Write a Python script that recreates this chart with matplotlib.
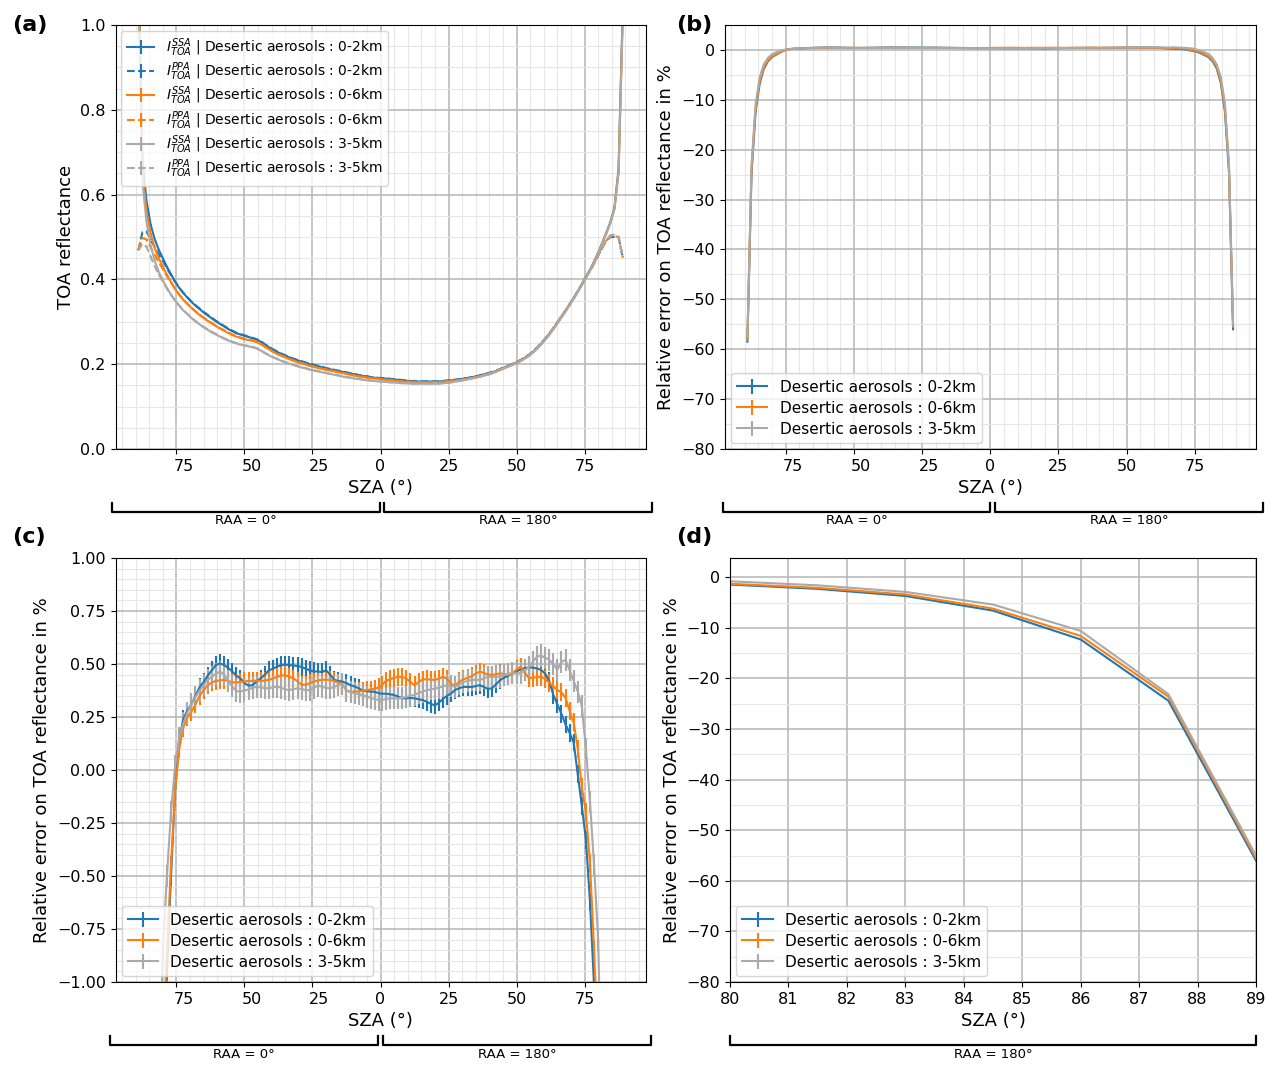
import numpy as np
import matplotlib.pyplot as plt
from matplotlib.ticker import MultipleLocator
from matplotlib.lines import Line2D
from matplotlib.transforms import ScaledTranslation

# SZA grid: 1.5 deg step, RAA=0 side plotted as negative SZA
sza_half = np.arange(0.5, 89.1, 1.5)
sza = np.concatenate([-sza_half[::-1], sza_half])

labels = ["Desertic aerosols : 0-2km", "Desertic aerosols : 0-6km", "Desertic aerosols : 3-5km"]
colors = ["#1f77b4", "#ff7f0e", "#aaaaaa"]

# TOA reflectance, SSA (left: -89 -> -0.5, right: 0.5 -> 89)
ssa_02 = [1.13, 0.68, 0.585, 0.53, 0.495, 0.47, 0.45, 0.43, 0.412, 0.395,
          0.38, 0.368, 0.357, 0.347, 0.338, 0.33, 0.322, 0.315, 0.308, 0.301,
          0.295, 0.289, 0.283, 0.278, 0.273, 0.27, 0.267, 0.264, 0.261, 0.258,
          0.253, 0.246, 0.24, 0.234, 0.229, 0.224, 0.22, 0.216, 0.212, 0.209,
          0.206, 0.203, 0.2, 0.198, 0.195, 0.193, 0.19, 0.188, 0.186, 0.184,
          0.182, 0.18, 0.178, 0.176, 0.174, 0.172, 0.171, 0.169, 0.168, 0.167,
          0.167, 0.166, 0.165, 0.164, 0.163, 0.162, 0.161, 0.16, 0.16, 0.159,
          0.159, 0.159, 0.159, 0.159, 0.159, 0.16, 0.161, 0.162, 0.163, 0.164,
          0.166, 0.167, 0.169, 0.171, 0.173, 0.176, 0.178, 0.181, 0.184, 0.188,
          0.192, 0.196, 0.2, 0.204, 0.209, 0.215, 0.221, 0.229, 0.238, 0.248,
          0.259, 0.271, 0.284, 0.298, 0.312, 0.326, 0.341, 0.356, 0.372, 0.389,
          0.406, 0.423, 0.442, 0.463, 0.486, 0.51, 0.535, 0.57, 0.66, 1.03]
ssa_06 = [1.12, 0.655, 0.56, 0.508, 0.474, 0.45, 0.43, 0.411, 0.394, 0.378,
          0.364, 0.352, 0.342, 0.333, 0.324, 0.316, 0.309, 0.302, 0.296, 0.29,
          0.284, 0.279, 0.274, 0.269, 0.265, 0.262, 0.259, 0.257, 0.255, 0.252,
          0.247, 0.241, 0.235, 0.229, 0.224, 0.22, 0.216, 0.212, 0.208, 0.205,
          0.202, 0.199, 0.196, 0.194, 0.191, 0.189, 0.187, 0.185, 0.183, 0.181,
          0.179, 0.177, 0.175, 0.173, 0.171, 0.17, 0.168, 0.167, 0.166, 0.165,
          0.164, 0.163, 0.162, 0.161, 0.16, 0.159, 0.159, 0.158, 0.158, 0.157,
          0.157, 0.157, 0.157, 0.157, 0.157, 0.158, 0.159, 0.16, 0.161, 0.162,
          0.164, 0.165, 0.167, 0.169, 0.171, 0.174, 0.176, 0.18, 0.183, 0.187,
          0.191, 0.195, 0.199, 0.203, 0.208, 0.214, 0.22, 0.228, 0.237, 0.247,
          0.258, 0.27, 0.283, 0.297, 0.311, 0.325, 0.34, 0.355, 0.371, 0.388,
          0.405, 0.422, 0.441, 0.462, 0.485, 0.509, 0.534, 0.568, 0.655, 1.02]
ssa_35 = [1.1, 0.63, 0.535, 0.48, 0.444, 0.418, 0.398, 0.38, 0.364, 0.35,
          0.338, 0.327, 0.318, 0.309, 0.301, 0.294, 0.287, 0.281, 0.275, 0.27,
          0.265, 0.26, 0.256, 0.252, 0.249, 0.246, 0.244, 0.242, 0.24, 0.237,
          0.232, 0.226, 0.221, 0.216, 0.212, 0.208, 0.204, 0.201, 0.198, 0.195,
          0.192, 0.19, 0.187, 0.185, 0.183, 0.181, 0.179, 0.177, 0.175, 0.173,
          0.171, 0.169, 0.168, 0.166, 0.165, 0.163, 0.162, 0.161, 0.16, 0.159,
          0.159, 0.158, 0.157, 0.157, 0.156, 0.155, 0.155, 0.154, 0.154, 0.154,
          0.154, 0.154, 0.154, 0.154, 0.154, 0.155, 0.156, 0.157, 0.159, 0.16,
          0.162, 0.164, 0.166, 0.168, 0.17, 0.173, 0.175, 0.178, 0.182, 0.186,
          0.19, 0.194, 0.198, 0.202, 0.207, 0.213, 0.219, 0.227, 0.236, 0.246,
          0.257, 0.269, 0.282, 0.296, 0.31, 0.324, 0.339, 0.354, 0.37, 0.387,
          0.404, 0.421, 0.44, 0.461, 0.484, 0.508, 0.533, 0.566, 0.65, 1.0]
ssa_std = 0.0006

# Relative error PPA vs SSA on TOA reflectance, in %
err_02 = [-58.5, -24.8, -12.3, -6.7, -3.8, -2.3, -1.45, -0.95, -0.5, -0.1,
          0.14, 0.24, 0.28, 0.31, 0.35, 0.39, 0.415, 0.445, 0.47, 0.495,
          0.503, 0.495, 0.482, 0.465, 0.445, 0.432, 0.41, 0.398, 0.4, 0.418,
          0.432, 0.45, 0.47, 0.478, 0.488, 0.495, 0.497, 0.495, 0.493, 0.49,
          0.486, 0.478, 0.47, 0.466, 0.464, 0.462, 0.47, 0.45, 0.425, 0.42,
          0.417, 0.41, 0.4, 0.394, 0.385, 0.374, 0.372, 0.37, 0.368, 0.362,
          0.36, 0.36, 0.357, 0.354, 0.346, 0.338, 0.338, 0.34, 0.338, 0.334,
          0.33, 0.322, 0.312, 0.305, 0.318, 0.336, 0.35, 0.362, 0.378, 0.386,
          0.392, 0.392, 0.391, 0.396, 0.4, 0.392, 0.382, 0.386, 0.405, 0.424,
          0.436, 0.445, 0.455, 0.465, 0.475, 0.48, 0.484, 0.483, 0.479, 0.472,
          0.455, 0.42, 0.355, 0.31, 0.265, 0.215, 0.175, 0.13, -0.02, -0.17,
          -0.33, -0.62, -1.02, -1.45, -2.3, -3.7, -6.6, -12.3, -24.4, -56.0]
err_06 = [-58.0, -24.0, -11.8, -6.3, -3.5, -2.1, -1.3, -0.85, -0.45, -0.1,
          0.1, 0.2, 0.25, 0.275, 0.31, 0.35, 0.377, 0.4, 0.413, 0.42,
          0.423, 0.425, 0.42, 0.414, 0.413, 0.416, 0.418, 0.42, 0.421, 0.421,
          0.42, 0.422, 0.426, 0.432, 0.44, 0.446, 0.447, 0.44, 0.432, 0.418,
          0.402, 0.402, 0.41, 0.417, 0.422, 0.425, 0.426, 0.425, 0.42, 0.413,
          0.405, 0.375, 0.368, 0.37, 0.371, 0.374, 0.377, 0.38, 0.384, 0.39,
          0.4, 0.42, 0.428, 0.435, 0.44, 0.438, 0.432, 0.415, 0.4, 0.415,
          0.427, 0.428, 0.426, 0.425, 0.432, 0.44, 0.43, 0.405, 0.398, 0.418,
          0.428, 0.435, 0.442, 0.455, 0.464, 0.458, 0.45, 0.448, 0.452, 0.456,
          0.452, 0.448, 0.455, 0.475, 0.487, 0.46, 0.435, 0.435, 0.438, 0.44,
          0.43, 0.412, 0.395, 0.377, 0.367, 0.34, 0.28, 0.225, 0.1, -0.08,
          -0.2, -0.44, -0.85, -1.3, -2.1, -3.4, -6.2, -11.6, -23.6, -55.5]
err_35 = [-57.5, -23.2, -10.8, -5.5, -2.9, -1.6, -0.85, -0.5, -0.2, 0.02,
          0.15, 0.22, 0.27, 0.31, 0.345, 0.375, 0.4, 0.425, 0.44, 0.455,
          0.464, 0.45, 0.42, 0.395, 0.372, 0.37, 0.375, 0.38, 0.388, 0.393,
          0.39, 0.386, 0.385, 0.39, 0.393, 0.388, 0.38, 0.377, 0.382, 0.385,
          0.382, 0.377, 0.377, 0.388, 0.398, 0.393, 0.387, 0.385, 0.392, 0.402,
          0.405, 0.375, 0.368, 0.362, 0.358, 0.352, 0.346, 0.34, 0.334, 0.33,
          0.33, 0.335, 0.338, 0.338, 0.338, 0.34, 0.345, 0.35, 0.355, 0.362,
          0.37, 0.377, 0.38, 0.384, 0.388, 0.395, 0.4, 0.397, 0.393, 0.405,
          0.415, 0.42, 0.425, 0.425, 0.425, 0.432, 0.44, 0.44, 0.44, 0.44,
          0.448, 0.455, 0.456, 0.456, 0.456, 0.47, 0.485, 0.51, 0.535, 0.54,
          0.53, 0.52, 0.5, 0.472, 0.51, 0.52, 0.47, 0.42, 0.37, 0.3,
          0.1, -0.15, -0.45, -0.8, -1.6, -2.9, -5.4, -10.6, -23.1, -55.0]
err_std = [0.042, 0.042, 0.052]

ssa_all = [np.array(ssa_02), np.array(ssa_06), np.array(ssa_35)]
err_all = [np.array(err_02), np.array(err_06), np.array(err_35)]

W, H = 1280, 1072
fig = plt.figure(figsize=(W / 100, H / 100), dpi=100)

def px_axes(l, t, r, b):
    return fig.add_axes([l / W, 1 - b / H, (r - l) / W, (b - t) / H])

ax_a = px_axes(115.5, 25, 645.5, 449)
ax_b = px_axes(724.5, 25, 1256, 449)
ax_c = px_axes(115.5, 558, 645.5, 982)
ax_d = px_axes(730, 558, 1256, 982)

def style(ax, ymajor, yminor, xminor=5):
    ax.yaxis.set_major_locator(MultipleLocator(ymajor))
    ax.yaxis.set_minor_locator(MultipleLocator(yminor))
    if xminor:
        ax.xaxis.set_minor_locator(MultipleLocator(xminor))
    ax.grid(which="major", color="#b5b5b5", lw=1.1)
    ax.grid(which="minor", color="#e6e6e6", lw=0.8)
    ax.tick_params(which="minor", length=0)
    ax.tick_params(which="major", labelsize=11.5)
    ax.set_axisbelow(True)

def sza_axis(ax):
    ax.set_xlim(-97.4, 97.4)
    ticks = [-75, -50, -25, 0, 25, 50, 75]
    ax.set_xticks(ticks)
    ax.set_xticklabels([str(abs(t)) for t in ticks])
    # the RAA=0 labels sit a little to the right, as if a minus sign was blanked out
    shift = ScaledTranslation(7 / 100, 0, fig.dpi_scale_trans)
    for t, lab in zip(ticks, ax.get_xticklabels()):
        if t < 0:
            lab.set_transform(lab.get_transform() + shift)
    ax.set_xlabel("SZA (°)", fontsize=13)

# (a) reflectance
for ssa, err, c, lab in zip(ssa_all, err_all, colors, labels):
    ppa = ssa * (1 + err / 100)
    ax_a.errorbar(sza, ssa, yerr=ssa_std, color=c, lw=1.5, elinewidth=1.5,
                  label=r"$I^{SSA}_{TOA}$ | " + lab)
    ax_a.errorbar(sza, ppa, yerr=ssa_std, color=c, lw=1.5, elinewidth=1.5,
                  ls="--", label=r"$I^{PPA}_{TOA}$ | " + lab)
sza_axis(ax_a)
ax_a.set_ylim(0, 1.0)
style(ax_a, 0.2, 0.05)
ax_a.set_ylabel("TOA reflectance", fontsize=13)
ax_a.legend(loc="upper left", fontsize=10, handlelength=2.0, labelspacing=0.12,
            borderaxespad=0.4)

# (b), (c), (d) relative error
for ax in (ax_b, ax_c, ax_d):
    for err, s, c, lab in zip(err_all, err_std, colors, labels):
        ax.errorbar(sza, err, yerr=s, color=c, lw=1.5, elinewidth=1.5, label=lab)
    ax.set_ylabel("Relative error on TOA reflectance in %", fontsize=13)
    ax.legend(loc="lower left", fontsize=11, handlelength=2.0, labelspacing=0.4,
              borderaxespad=0.4)

sza_axis(ax_b)
ax_b.set_ylim(-80, 5)
style(ax_b, 10, 5)

sza_axis(ax_c)
ax_c.set_ylim(-1.0, 1.0)
style(ax_c, 0.25, 0.05)

ax_d.set_xlim(80, 89)
ax_d.set_ylim(-80, 3.8)
ax_d.xaxis.set_major_locator(MultipleLocator(1))
ax_d.set_xlabel("SZA (°)", fontsize=13)
style(ax_d, 10, 5, xminor=None)

# panel letters
for txt, x, y in [("(a)", 12, 25), ("(b)", 676, 25), ("(c)", 12, 537), ("(d)", 676, 537)]:
    fig.text(x / W, 1 - y / H, txt, fontsize=16, fontweight="bold", va="center", ha="left")

# RAA brackets under the SZA axes
def bracket(x0, x1, y, text):
    yy = 1 - y / H
    yt = 1 - (y - 9) / H
    fig.add_artist(Line2D([x0 / W, x0 / W, x1 / W, x1 / W], [yt, yy, yy, yt],
                          color="black", lw=1.6, transform=fig.transFigure))
    fig.text((x0 + x1) / 2 / W, 1 - (y + 9) / H, text, fontsize=9.5,
             ha="center", va="center")

bracket(112, 380, 512, "RAA = 0°")
bracket(384, 652, 512, "RAA = 180°")
bracket(723, 990, 512, "RAA = 0°")
bracket(995, 1263, 512, "RAA = 180°")
bracket(110, 378, 1045, "RAA = 0°")
bracket(383, 651, 1045, "RAA = 180°")
bracket(730, 1256, 1045, "RAA = 180°")

fig.savefig("out.png", dpi=100)
